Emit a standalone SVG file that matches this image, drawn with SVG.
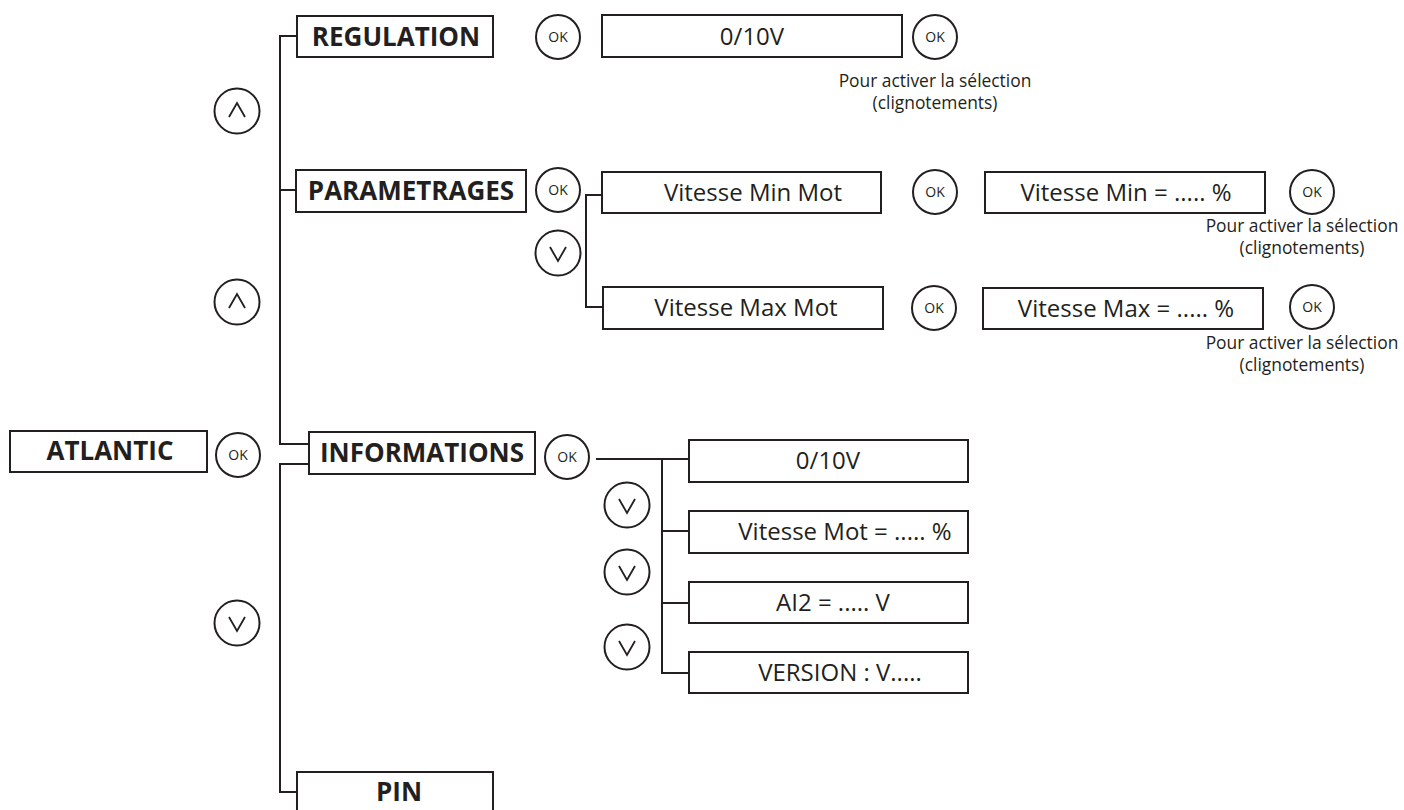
<svg xmlns="http://www.w3.org/2000/svg" width="1404" height="810" viewBox="0 0 1404 810">
<style>
.box{fill:#fff;stroke:#231f20;stroke-width:2}
.btn{fill:#fff;stroke:#231f20;stroke-width:2}
.chev{fill:none;stroke:#231f20;stroke-width:1.8;stroke-linejoin:miter}
.con{fill:none;stroke:#231f20;stroke-width:2}
.b{font-family:"Open Sans","Liberation Sans",sans-serif;font-weight:700;font-size:26px;fill:#231f20;text-anchor:middle}
.r{font-family:"Open Sans","Liberation Sans",sans-serif;font-size:24px;fill:#231f20;text-anchor:middle}
.s{font-family:"Open Sans","Liberation Sans",sans-serif;font-size:17.4px;fill:#231f20;text-anchor:middle}
.ok{font-family:"Open Sans","Liberation Sans",sans-serif;font-size:14px;fill:#231f20;text-anchor:middle}
</style>
<defs>
<g id="okbtn"><circle class="btn" cx="0" cy="0" r="22"/><text class="ok" x="0" y="5">OK</text></g>
<g id="upbtn"><circle class="btn" cx="0" cy="0" r="22.5"/><polyline class="chev" points="-8,6 0,-8 8,6"/></g>
<g id="dnbtn"><circle class="btn" cx="0" cy="0" r="22.5"/><polyline class="chev" points="-8,-6 0,8 8,-6"/></g>
</defs>
<rect width="1404" height="810" fill="#fff"/>
<g id="connectors">
<path class="con" d="M297,36 H280 V444 H309"/>
<path class="con" d="M280,190 H296"/>
<path class="con" d="M309,464 H280 V792 H297"/>
<path class="con" d="M602,195 H586 V307 H603"/>
<path class="con" d="M596,459 H689"/>
<path class="con" d="M662,459 V673 H689"/>
<path class="con" d="M662,531 H689"/>
<path class="con" d="M662,603 H689"/>
</g>
<g id="atlantic"><rect class="box" x="10" y="431" width="197" height="41"/><text class="b" x="110" y="460">ATLANTIC</text></g>
<g id="regulation"><rect class="box" x="297" y="16" width="196" height="41"/><text class="b" x="396" y="46">REGULATION</text></g>
<g id="parametrages"><rect class="box" x="296" y="170" width="230" height="42"/><text class="b" x="411" y="200">PARAMETRAGES</text></g>
<g id="informations"><rect class="box" x="309" y="432" width="226" height="42"/><text class="b" x="422" y="462">INFORMATIONS</text></g>
<g id="pin"><rect class="box" x="297" y="772" width="196" height="44"/><text class="b" x="399" y="801">PIN</text></g>
<g id="reg-value"><rect class="box" x="602" y="15" width="300" height="42"/><text class="r" x="752" y="45">0/10V</text></g>
<g id="vmin-mot"><rect class="box" x="602" y="172" width="279" height="41"/><text class="r" x="753" y="201">Vitesse Min Mot</text></g>
<g id="vmax-mot"><rect class="box" x="603" y="287" width="280" height="42"/><text class="r" x="746" y="316">Vitesse Max Mot</text></g>
<g id="vmin-val"><rect class="box" x="985" y="172" width="280" height="41"/><text class="r" x="1126" y="201">Vitesse Min = ..... %</text></g>
<g id="vmax-val"><rect class="box" x="983" y="288" width="280" height="41"/><text class="r" x="1126" y="317">Vitesse Max = ..... %</text></g>
<g id="info-010"><rect class="box" x="689" y="440" width="279" height="42"/><text class="r" x="828" y="469">0/10V</text></g>
<g id="info-vmot"><rect class="box" x="689" y="511" width="279" height="42"/><text class="r" x="845" y="540">Vitesse Mot = ..... %</text></g>
<g id="info-ai2"><rect class="box" x="689" y="582" width="279" height="41"/><text class="r" x="833" y="611">AI2 = ..... V</text></g>
<g id="info-version"><rect class="box" x="689" y="652" width="279" height="41"/><text class="r" x="840" y="681">VERSION : V.....</text></g>
<g id="buttons">
<use href="#okbtn" x="238" y="455"/>
<use href="#upbtn" x="237" y="111"/>
<use href="#upbtn" x="237" y="302"/>
<use href="#dnbtn" x="237" y="623"/>
<use href="#okbtn" x="558" y="37"/>
<use href="#okbtn" x="935" y="37"/>
<use href="#okbtn" x="558" y="190"/>
<use href="#dnbtn" x="558" y="253"/>
<use href="#okbtn" x="935" y="192"/>
<use href="#okbtn" x="1312" y="192"/>
<use href="#okbtn" x="934" y="308"/>
<use href="#okbtn" x="1312" y="307"/>
<use href="#okbtn" x="567" y="457"/>
<use href="#dnbtn" x="627" y="505"/>
<use href="#dnbtn" x="627" y="572"/>
<use href="#dnbtn" x="627" y="647"/>
</g>
<g id="notes">
<text class="s" x="935" y="87">Pour activer la sélection</text>
<text class="s" x="935" y="109">(clignotements)</text>
<text class="s" x="1302" y="232">Pour activer la sélection</text>
<text class="s" x="1302" y="254">(clignotements)</text>
<text class="s" x="1302" y="349">Pour activer la sélection</text>
<text class="s" x="1302" y="371">(clignotements)</text>
</g>
</svg>
